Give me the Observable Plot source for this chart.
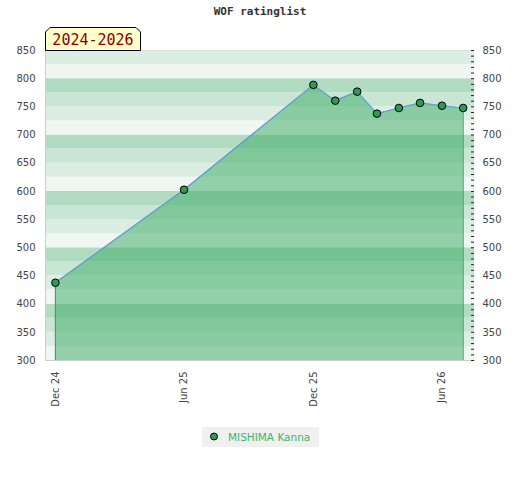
<!DOCTYPE html>
<html>
<head>
<meta charset="utf-8">
<script src="https://cdn.jsdelivr.net/npm/d3@7"></script>
<script src="https://cdn.jsdelivr.net/npm/@observablehq/plot@0.6"></script>
<style>
  html, body { margin: 0; padding: 0; background: #fff; }
  #wrap { position: relative; width: 520px; height: 480px; font-family: "DejaVu Sans", sans-serif; }
  #title { position: absolute; top: 5px; left: 0; width: 520px; text-align: center;
           font-family: "DejaVu Sans Mono", monospace; font-weight: bold; font-size: 11px; color: #333; }
  #yearbox { position: absolute; left: 45px; top: 27px; width: 96px; height: 24px; }
  #legend { position: absolute; left: 202px; top: 427px; width: 117px; height: 20px; background: #f0f0f0;
            font-size: 10.5px; color: #3cb371; line-height: 20px; }
  #legend svg { position: absolute; left: 7px; top: 5px; }
  #legend span { position: absolute; left: 26px; top: 0; }
</style>
</head>
<body>
<div id="wrap">
  <div id="chart"></div>
  <div id="title">WOF ratinglist</div>
  <div id="yearbox"></div>
  <div id="legend"><svg width="10" height="10"><circle cx="5" cy="4.5" r="3.5" fill="#2e9a57" stroke="#000" stroke-width="1"/></svg><span id="legendText"></span></div>
</div>
<script>
// ---- data ----
const dates = ["2024-12-01","2025-06-01","2025-12-01","2026-01-01","2026-02-01","2026-03-01","2026-04-01","2026-05-01","2026-06-01","2026-07-01"];
const ratings = [438, 603, 789, 761, 777, 738, 748, 757, 752, 748];
const playerName = "MISHIMA Kanna";
const periodLabel = "2024-2026";
const yTicks = [300, 350, 400, 450, 500, 550, 600, 650, 700, 750, 800, 850];
const xTickDates = ["2024-12-01", "2025-06-01", "2025-12-01", "2026-06-01"];
const xTickLabels = ["Dec 24", "Jun 25", "Dec 25", "Jun 26"];

const data = dates.map((d, i) => ({date: new Date(d), rating: ratings[i]}));
const first = data[0], last = data[data.length - 1];

// decorative background bands (every 25, 4-tone cycle per 100)
const bandColors = {0: "#f0f7f2", 25: "#dceee3", 50: "#c8e6d3", 75: "#b2dcc2"};
const bands = d3.range(300, 850, 25).map(v => ({y1: v, y2: v + 25, fill: bandColors[v % 100]}));

const labelMap = new Map(xTickDates.map((d, i) => [+new Date(d), xTickLabels[i]]));

const chart = Plot.plot({
  width: 520,
  height: 480,
  marginLeft: 45,
  marginRight: 46,
  marginTop: 50,
  marginBottom: 120,
  style: {fontFamily: "DejaVu Sans, sans-serif", fontSize: "10px", color: "#444", background: "transparent"},
  x: {type: "utc", domain: [new Date("2024-11-17"), new Date("2026-07-17")]},
  y: {domain: [300, 850]},
  marks: [
    Plot.rect(bands, {y1: "y1", y2: "y2", fill: "fill"}),
    Plot.areaY(data, {x: "date", y1: 300, y2: "rating", fill: "rgb(62,172,102)", fillOpacity: 0.52}),
    Plot.ruleX([first, last], {x: "date", y1: 300, y2: "rating", stroke: "#3a9e5e", strokeWidth: 1}),
    Plot.line(data, {x: "date", y: "rating", stroke: "#5b9fd6", strokeWidth: 1.2}),
    Plot.frame({anchor: "left", stroke: "#cccccc"}),
    Plot.frame({anchor: "bottom", stroke: "#cccccc"}),
    Plot.frame({anchor: "top", stroke: "#dddddd"}),
    Plot.tickY(d3.range(300, 851, 10), {y: d => d, insetLeft: 426, stroke: "#222", strokeWidth: 1}),
    Plot.dot(data, {x: "date", y: "rating", r: 3.8, fill: "#2e9a57", stroke: "#000", strokeWidth: 1}),
    Plot.axisY({anchor: "left", ticks: yTicks, tickSize: 0, tickPadding: 10, label: null, fill: "#444"}),
    Plot.axisY({anchor: "right", ticks: yTicks, tickSize: 0, tickPadding: 8, label: null, fill: "#444"}),
    Plot.axisX({ticks: xTickDates.map(d => new Date(d)), tickFormat: d => labelMap.get(+d),
                tickRotate: -90, tickSize: 0, tickPadding: 11, label: null, fill: "#444"})
  ]
});
document.getElementById("chart").appendChild(chart);

// period label box
const box = d3.select("#yearbox").append("svg").attr("width", 96).attr("height", 24);
box.append("path")
  .attr("d", "M0.5,23.5 L0.5,5 L5,0.5 L91,0.5 L95.5,5 L95.5,23.5 Z")
  .attr("fill", "#ffffcc").attr("stroke", "#000").attr("stroke-width", 1);
box.append("text").attr("x", 48).attr("y", 17.5).attr("text-anchor", "middle")
  .attr("font-family", "DejaVu Sans Mono, monospace").attr("font-size", 15)
  .attr("fill", "#8b0000").text(periodLabel);

document.getElementById("legendText").textContent = playerName;
</script>
</body>
</html>
